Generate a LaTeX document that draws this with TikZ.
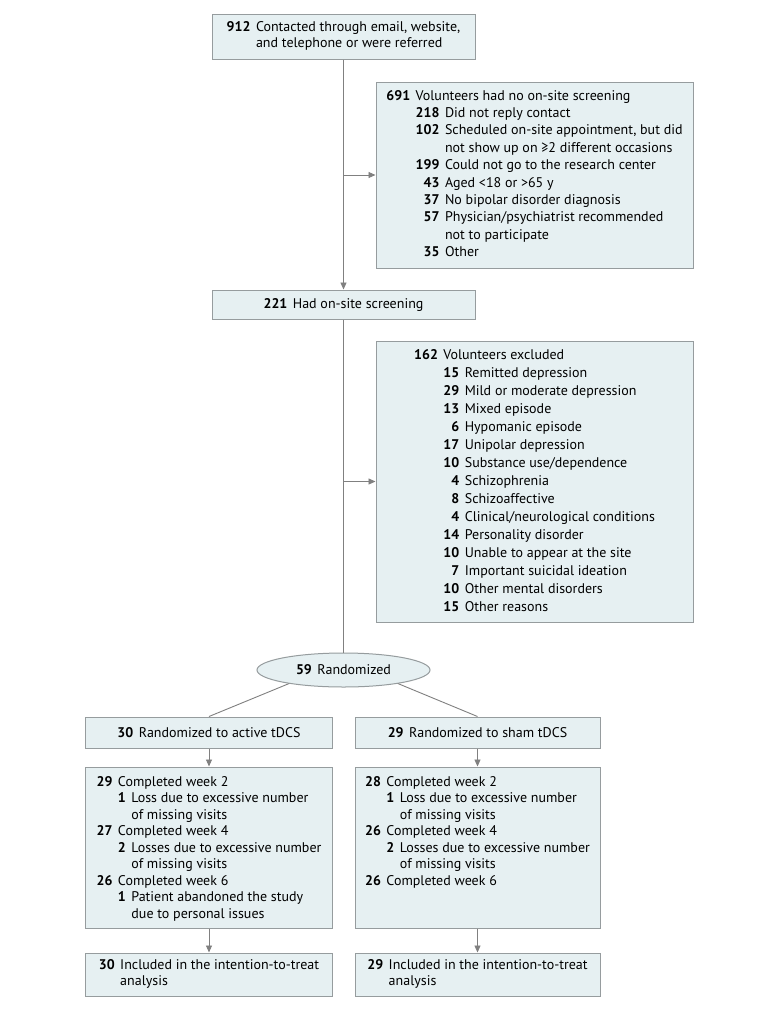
\documentclass[tikz,border=0pt]{standalone}
\usepackage{fontspec}
\setmainfont{PT Sans}
\usetikzlibrary{arrows.meta,shapes.geometric,calc}
\definecolor{boxfill}{RGB}{230,240,242}
\definecolor{boxline}{RGB}{150,156,158}
\definecolor{conncol}{RGB}{128,128,128}
\newcommand{\nb}[1]{\textbf{#1}}
\newcommand{\mysz}[1]{\fontsize{14bp}{#1}\selectfont}
\newcommand{\gap}{\hspace{5.5bp}}
\begin{document}
\begin{tikzpicture}[x=1bp,y=-1bp,
  box/.style={draw=boxline, fill=boxfill, line width=1bp, rectangle, inner sep=0pt, font=\mysz{17bp}},
  txt/.style={inner sep=0pt, font=\mysz{16.5bp}},
  conn/.style={draw=conncol, line width=0.9bp},
  arr/.style={conn, -{Triangle[length=7bp,width=6bp]}}]
\useasboundingbox (0,0) rectangle (780,1009);
\fill[white] (0,0) rectangle (780,1009);

% top box
\node[box, minimum width=263bp, minimum height=45bp] (b912) at (343.5,36.5)
 {\mysz{16bp}\begin{tabular}{@{}r@{\gap}l@{}}\nb{912} & Contacted through email, website,\\ & and telephone or were referred\end{tabular}};

% 691 box
\node[box, minimum width=317bp, minimum height=186bp] (b691) at (534.5,175)
 {\mysz{17.4bp}\begin{tabular}{@{}r@{\gap}r@{\gap}l@{}}
 \nb{691} & \multicolumn{2}{@{}l@{}}{Volunteers had no on-site screening}\\
 & \nb{218} & Did not reply contact\\
 & \nb{102} & Scheduled on-site appointment, but did\\
 & & not show up on ≥2 different occasions\\
 & \nb{199} & Could not go to the research center\\
 & \nb{43} & Aged <18 or >65 y\\
 & \nb{37} & No bipolar disorder diagnosis\\
 & \nb{57} & Physician/psychiatrist recommended\\
 & & not to participate\\
 & \nb{35} & Other
 \end{tabular}};

% 221 box
\node[box, minimum width=263bp, minimum height=29bp] (b221) at (343.5,304.5)
 {\nb{221}\gap Had on-site screening};

% 162 box
\node[box, minimum width=317bp, minimum height=281bp] (b162) at (534.5,481.5)
 {\mysz{18bp}\begin{tabular}{@{}r@{\gap}r@{\gap}l@{}}
 \nb{162} & \multicolumn{2}{@{}l@{}}{Volunteers excluded}\\
 & \nb{15} & Remitted depression\\
 & \nb{29} & Mild or moderate depression\\
 & \nb{13} & Mixed episode\\
 & \nb{6} & Hypomanic episode\\
 & \nb{17} & Unipolar depression\\
 & \nb{10} & Substance use/dependence\\
 & \nb{4} & Schizophrenia\\
 & \nb{8} & Schizoaffective\\
 & \nb{4} & Clinical/neurological conditions\\
 & \nb{14} & Personality disorder\\
 & \nb{10} & Unable to appear at the site\\
 & \nb{7} & Important suicidal ideation\\
 & \nb{10} & Other mental disorders\\
 & \nb{15} & Other reasons
 \end{tabular}};

% randomized
\node[box, ellipse, minimum width=173bp, minimum height=34bp] (rand) at (343.5,670)
 {\nb{59}\gap Randomized};

% arms
\node[box, minimum width=246bp, minimum height=31bp] (b30) at (209,732.5)
 {\nb{30}\gap Randomized to active tDCS};
\node[box, minimum width=245bp, minimum height=31bp] (b29) at (477.5,732.5)
 {\nb{29}\gap Randomized to sham tDCS};

% follow-up boxes
\node[box, minimum width=246bp, minimum height=161bp] (bL) at (209,847.5) {};
\node[box, minimum width=245bp, minimum height=161bp] (bR) at (477.5,847.5) {};
\node[txt, anchor=north] (tL) at ($(bL.north)+(0,8)$)
 {\begin{tabular}{@{}r@{\gap}r@{\gap}l@{}}
 \nb{29} & \multicolumn{2}{@{}l@{}}{Completed week 2}\\
 & \nb{1} & Loss due to excessive number\\
 & & of missing visits\\
 \nb{27} & \multicolumn{2}{@{}l@{}}{Completed week 4}\\
 & \nb{2} & Losses due to excessive number\\
 & & of missing visits\\
 \nb{26} & \multicolumn{2}{@{}l@{}}{Completed week 6}\\
 & \nb{1} & Patient abandoned the study\\
 & & due to personal issues
 \end{tabular}};
\node[txt, anchor=north] (tR) at ($(bR.north)+(0,8)$)
 {\begin{tabular}{@{}r@{\gap}r@{\gap}l@{}}
 \nb{28} & \multicolumn{2}{@{}l@{}}{Completed week 2}\\
 & \nb{1} & Loss due to excessive number\\
 & & of missing visits\\
 \nb{26} & \multicolumn{2}{@{}l@{}}{Completed week 4}\\
 & \nb{2} & Losses due to excessive number\\
 & & of missing visits\\
 \nb{26} & \multicolumn{2}{@{}l@{}}{Completed week 6}
 \end{tabular}};

% ITT boxes
\node[box, minimum width=246bp, minimum height=43bp] (ittL) at (209,974.5)
 {\mysz{16bp}\begin{tabular}{@{}r@{\gap}l@{}}\nb{30} & Included in the intention-to-treat\\ & analysis\end{tabular}};
\node[box, minimum width=245bp, minimum height=43bp] (ittR) at (477.5,974.5)
 {\mysz{16bp}\begin{tabular}{@{}r@{\gap}l@{}}\nb{29} & Included in the intention-to-treat\\ & analysis\end{tabular}};

% connectors
\draw[arr] (b912.south) -- (b221.north);
\draw[conn] (b221.south) -- (rand.north);
\coordinate (j1) at (b691.west -| b912.south);
\coordinate (j2) at (b162.west -| b221.south);
\draw[arr] (j1) -- (b691.west);
\draw[arr] (j2) -- (b162.west);
\draw[conn] (rand.194) -- (b30.north);
\draw[conn] (rand.-14) -- (b29.north);
\draw[arr] (b30.south) -- (bL.north);
\draw[arr] (b29.south) -- (bR.north);
\draw[arr] (bL.south) -- (ittL.north);
\draw[arr] (bR.south) -- (ittR.north);
\end{tikzpicture}
\end{document}
